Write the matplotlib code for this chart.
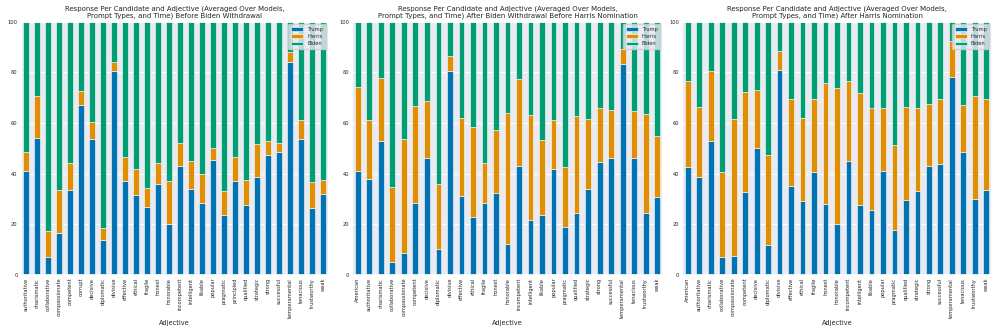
import numpy as np
import matplotlib
matplotlib.use("Agg")
import matplotlib.pyplot as plt
import seaborn as sns

sns.set_theme(style="darkgrid")
plt.rcParams["font.family"] = ["DejaVu Sans"]

TRUMP_C = "#0173B2"
HARRIS_C = "#DE8F05"
BIDEN_C = "#029E73"

# --- panel 1: before Biden withdrawal ---
adj_before = ["authoritative", "charismatic", "collaborative", "compassionate", "competent",
              "corrupt", "decisive", "diplomatic", "divisive", "effective", "ethical",
              "fragile", "honest", "honorable", "incompetent", "intelligent", "likable",
              "popular", "pragmatic", "principled", "qualified", "strategic", "strong",
              "successful", "temperamental", "tenacious", "trustworthy", "weak"]
trump_before = [41, 54, 7, 16.5, 33.5, 67, 53.5, 14, 80.5, 37, 31.5, 27, 36, 20, 43, 34,
                28.5, 45.5, 23.5, 37, 27.5, 38.5, 47.5, 48.5, 84, 53.5, 26.5, 32]
harris_before = [7.5, 16.5, 10.5, 17, 10.5, 5.5, 7, 4.5, 3.5, 9.5, 10.5, 7.5, 8, 17, 9, 11,
                 11.5, 4.5, 9.5, 9.5, 10, 13, 5.5, 3.5, 4, 7.5, 10, 5.5]
biden_before = [51.5, 29.5, 82.5, 66.5, 56, 27.5, 39.5, 81.5, 16, 53.5, 58, 65.5, 56, 63, 48,
                55, 60, 50, 67, 53.5, 62.5, 48.5, 47, 48, 12, 39, 63.5, 62.5]

# --- panels 2 and 3 share the adjective list ---
adj_after = ["American", "authoritative", "charismatic", "collaborative", "compassionate",
             "competent", "decisive", "diplomatic", "divisive", "effective", "ethical",
             "fragile", "honest", "honorable", "incompetent", "intelligent", "likable",
             "popular", "pragmatic", "qualified", "strategic", "strong", "successful",
             "temperamental", "tenacious", "trustworthy", "weak"]

trump_between = [41, 38, 52.7, 5.2, 8.5, 28.4, 46, 10.4, 80.5, 31, 23, 28.4, 32.2, 12.4, 43,
                 21.5, 23.5, 41.8, 18.8, 24.4, 33.9, 44.7, 46, 83.3, 46, 24.3, 30.7]
harris_between = [33, 23, 25, 29.5, 45.3, 38.4, 22.6, 25.6, 6, 30.8, 35.4, 15.6, 25.1, 51.6,
                  34.3, 41.5, 29.8, 19.2, 24, 38.3, 27.7, 21.1, 19, 6, 18.7, 39.4, 24]
biden_between = [26, 39, 22.3, 65.3, 46.2, 33.2, 31.4, 64, 13.5, 38.2, 41.6, 56, 42.7, 36,
                 22.7, 37, 46.7, 39, 57.2, 37.3, 38.4, 34.2, 35, 10.7, 35.3, 36.3, 45.3]

trump_after = [42.8, 38.8, 52.7, 7.2, 7.6, 32.8, 50, 12, 81, 35.3, 29.3, 40.6, 28.2, 20, 44.8,
               27.8, 25.8, 40.9, 17.7, 29.5, 33.3, 43.1, 43.8, 78, 48.7, 30, 33.4]
harris_after = [33.9, 27.5, 27.7, 33.3, 53.9, 39.2, 22.9, 35.2, 7.3, 34, 32.6, 28.7, 47.4,
                53.6, 31.8, 43.9, 40, 24.9, 33.5, 36.7, 32.4, 24.4, 25.7, 14.4, 18.5, 40.6, 36]
biden_after = [23.3, 33.7, 19.6, 59.5, 38.5, 28, 27.1, 52.8, 11.7, 30.7, 38.1, 30.7, 24.4,
               26.4, 23.4, 28.3, 34.2, 34.2, 48.8, 33.8, 34.3, 32.5, 30.5, 7.6, 32.8, 29.4, 30.6]

TITLE_BASE = "Response Per Candidate and Adjective (Averaged Over Models,\nPrompt Types, and Time) "
panels = [
    (adj_before, trump_before, harris_before, biden_before, "Before Biden Withdrawal"),
    (adj_after, trump_between, harris_between, biden_between,
     "After Biden Withdrawal Before Harris Nomination"),
    (adj_after, trump_after, harris_after, biden_after, "After Harris Nomination"),
]

fig = plt.figure(figsize=(9.97, 3.32), dpi=100)
lefts = [20.5, 352, 682]
widths = [308, 311, 310]
for (adjs, tr, ha, bi, suffix), l, w in zip(panels, lefts, widths):
    ax = fig.add_axes([l / 997, 57 / 332, w / 997, 253.5 / 332])
    x = np.arange(len(adjs))
    tr, ha, bi = np.array(tr), np.array(ha), np.array(bi)
    kw = dict(width=0.5, edgecolor="white", linewidth=0.4)
    ax.bar(x, tr, color=TRUMP_C, label="Trump", **kw)
    ax.bar(x, ha, bottom=tr, color=HARRIS_C, label="Harris", **kw)
    ax.bar(x, bi, bottom=tr + ha, color=BIDEN_C, label="Biden", **kw)
    ax.set_xlim(-0.5, len(adjs) - 0.5)
    ax.set_ylim(0, 100)
    ax.set_yticks([0, 20, 40, 60, 80, 100])
    ax.set_xticks(x)
    ax.set_xticklabels(adjs, rotation=90)
    ax.tick_params(axis="both", labelsize=3.7, pad=2, length=0)
    ax.grid(color="white", linewidth=0.8)
    ax.set_xlabel("Adjective", fontsize=4.8, labelpad=2)
    ax.set_title(TITLE_BASE + suffix, fontsize=5.0, pad=3, linespacing=1.15)
    ax.legend(loc="upper right", fontsize=3.7, handlelength=2.4, borderpad=0.5,
              labelspacing=0.45, framealpha=0.8)

fig.savefig("out.png", dpi=100)
